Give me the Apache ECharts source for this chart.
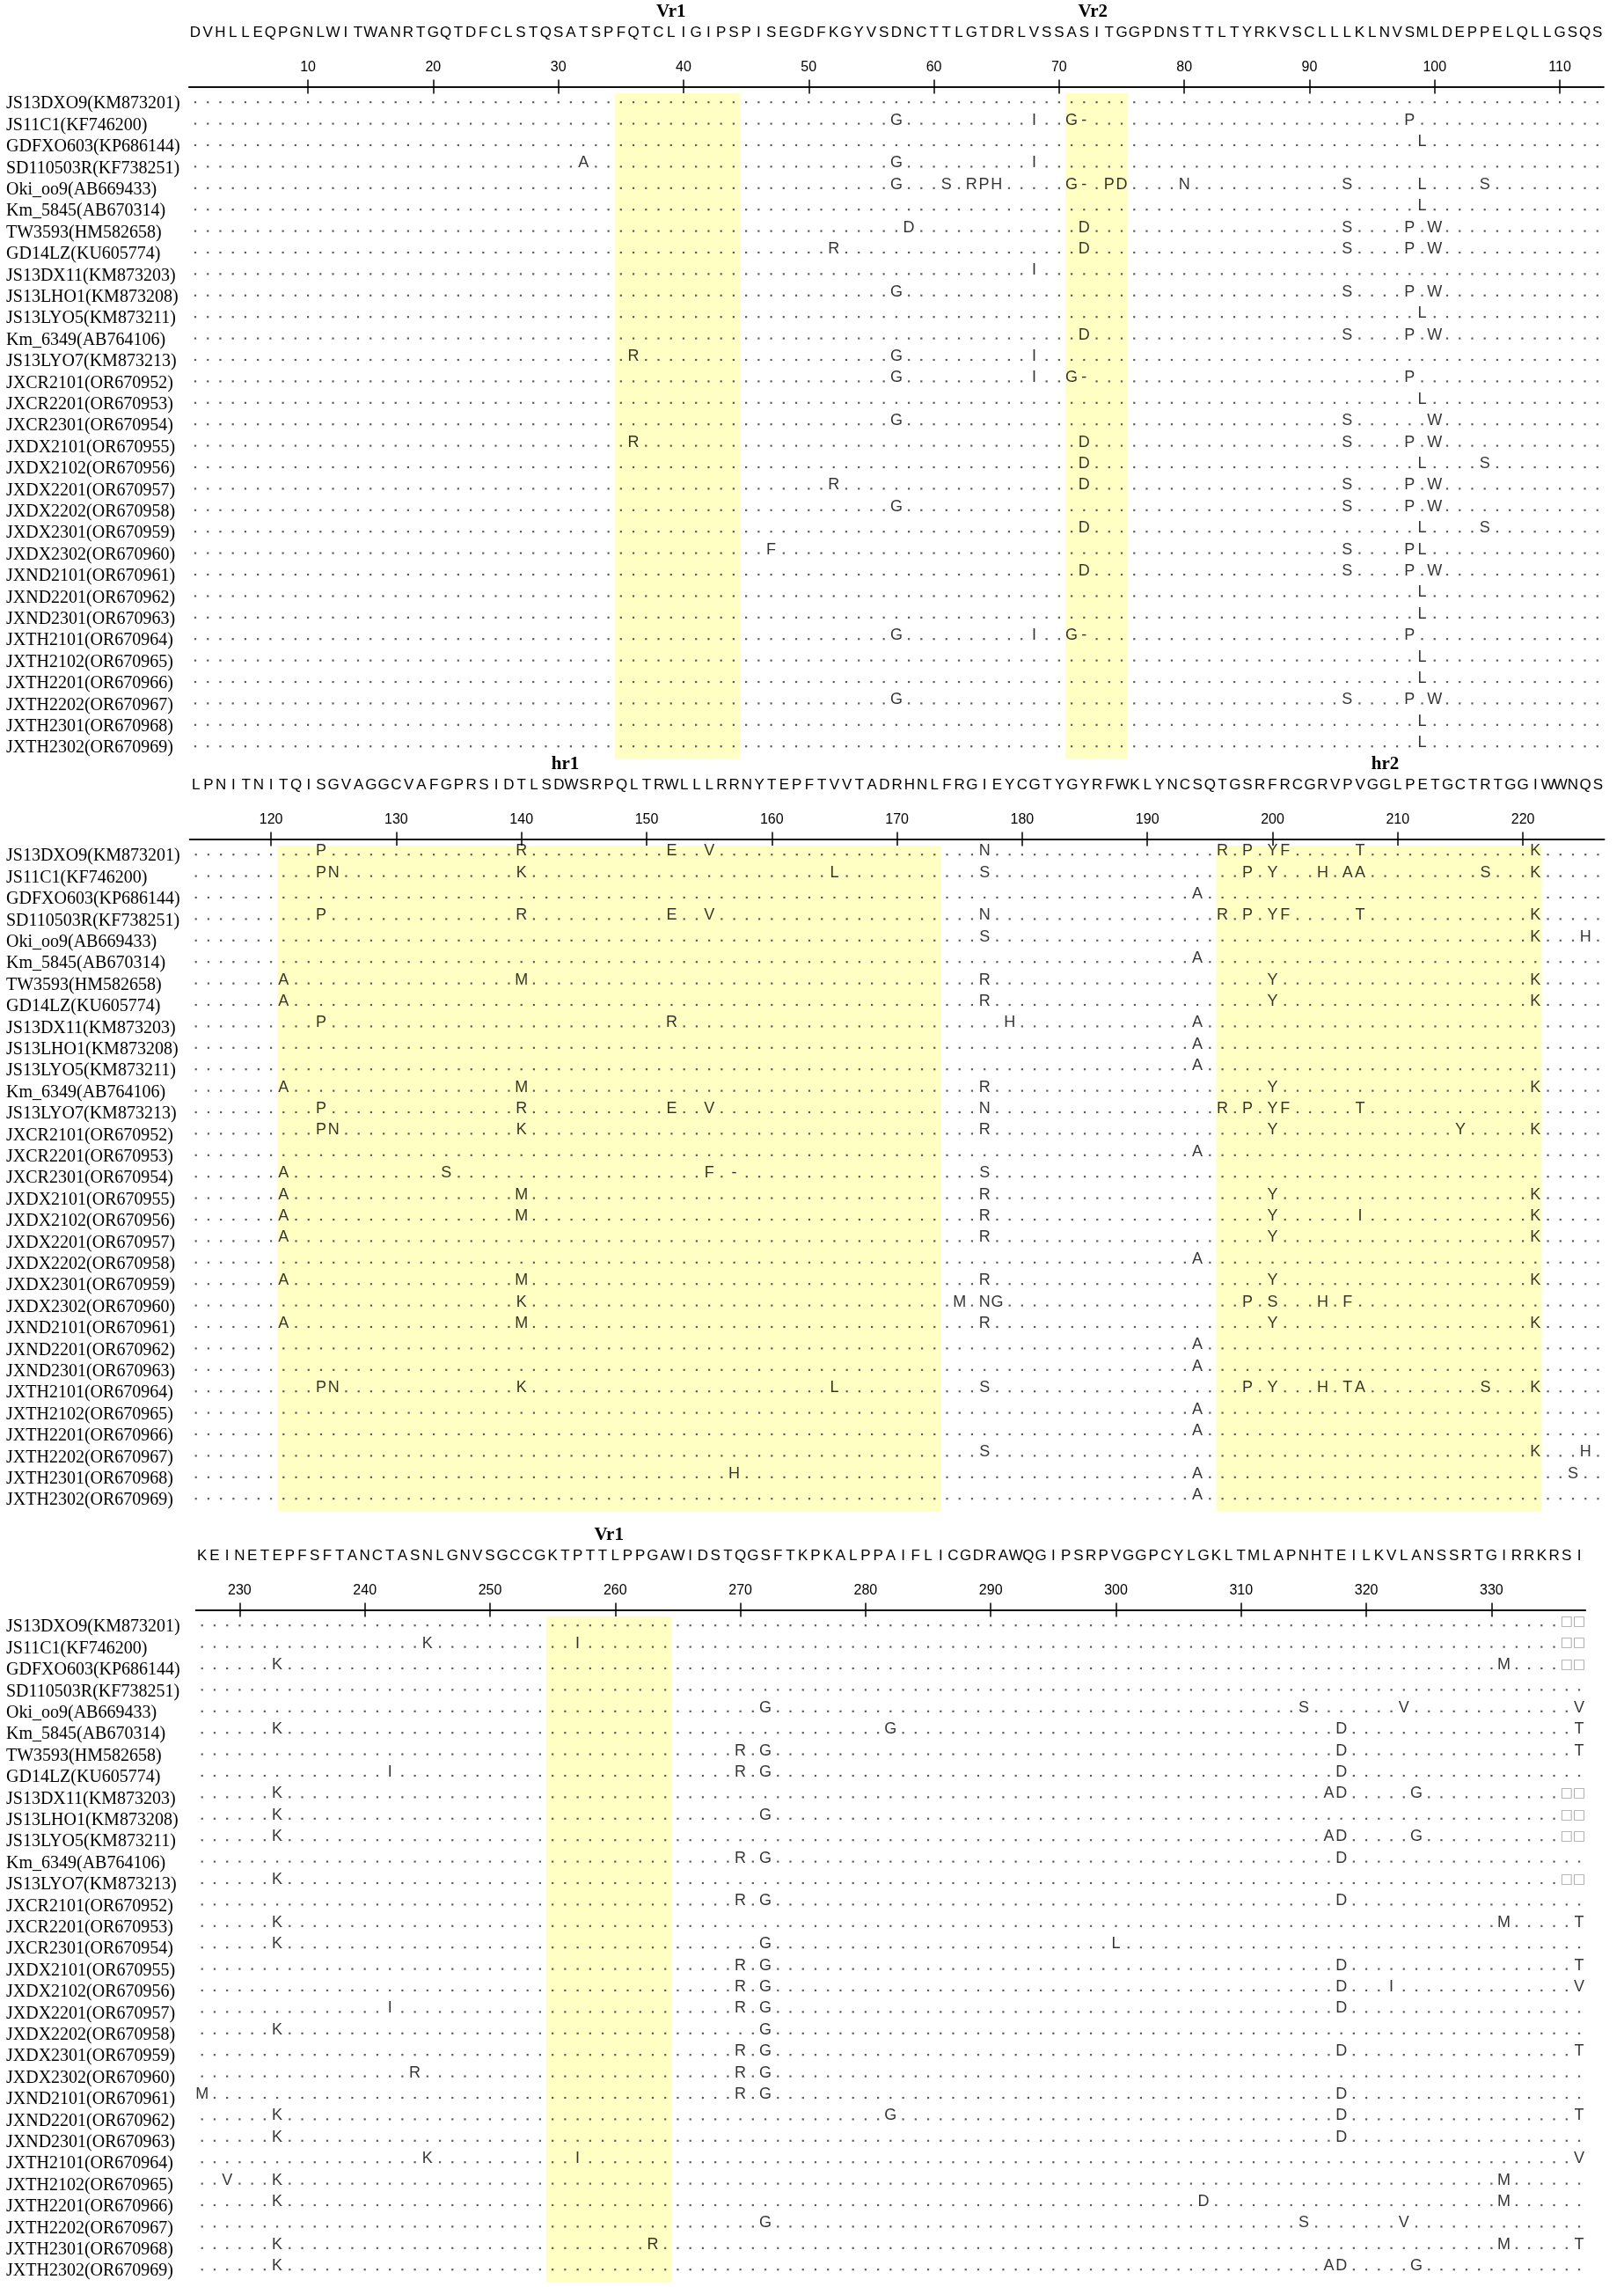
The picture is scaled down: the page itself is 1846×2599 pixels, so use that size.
<!DOCTYPE html>
<html>
<head>
<meta charset="utf-8">
<script src="https://cdn.jsdelivr.net/npm/echarts@6/dist/echarts.min.js"></script>
<style>
html,body{margin:0;padding:0;background:#fff;}
#chart{width:1846px;height:2599px;}
</style>
</head>
<body>
<div id="chart"></div>
<script>
// ---------------- DATA ----------------
const strains = ['JS13DXO9(KM873201)','JS11C1(KF746200)','GDFXO603(KP686144)','SD110503R(KF738251)','Oki_oo9(AB669433)','Km_5845(AB670314)','TW3593(HM582658)','GD14LZ(KU605774)','JS13DX11(KM873203)','JS13LHO1(KM873208)','JS13LYO5(KM873211)','Km_6349(AB764106)','JS13LYO7(KM873213)','JXCR2101(OR670952)','JXCR2201(OR670953)','JXCR2301(OR670954)','JXDX2101(OR670955)','JXDX2102(OR670956)','JXDX2201(OR670957)','JXDX2202(OR670958)','JXDX2301(OR670959)','JXDX2302(OR670960)','JXND2101(OR670961)','JXND2201(OR670962)','JXND2301(OR670963)','JXTH2101(OR670964)','JXTH2102(OR670965)','JXTH2201(OR670966)','JXTH2202(OR670967)','JXTH2301(OR670968)','JXTH2302(OR670969)'];

// reference sequence of each block and its first residue number
const refSeq1 = 'DVHLLEQPGNLWITWANRTGQTDFCLSTQSATSPFQTCLIGIPSPISEGDFKGYVSDNCTTLGTDRLVSSASITGGPDNSTTLTYRKVSCLLLKLNVSMLDEPPELQLLGSQS';
const refSeq2 = 'LPNITNITQISGVAGGCVAFGPRSIDTLSDWSRPQLTRWLLLRRNYTEPFTVVTADRHNLFRGIEYCGTYGYRFWKLYNCSQTGSRFRCGRVPVGGLPETGCTRTGGIWWNQS';
const refSeq3 = 'KEINETEPFSFTANCTASNLGNVSGCCGKTPTTLPPGAWIDSTQGSFTKPKALPPAIFLICGDRAWQGIPSRPVGGPCYLGKLTMLAPNHTEILKVLANSSRTGIRRKRSI';
const blockStart = [1, 114, 227];

// tick labels of the rulers
const ticks1 = [10,20,30,40,50,60,70,80,90,100,110];
const ticks2 = [120,130,140,150,160,170,180,190,200,210,220];
const ticks3 = [230,240,250,260,270,280,290,300,310,320,330];

// highlighted regions (residue ranges) and where their names sit
const regions1 = [{name:'Vr1', from:35, to:44, labelAt:39}, {name:'Vr2', from:71, to:75, labelAt:72.7}];
const regions2 = [{name:'hr1', from:121, to:173, labelAt:143.5}, {name:'hr2', from:196, to:221, labelAt:209}];
const regions3 = [{name:'Vr1', from:255, to:264, labelAt:259.5}];

// substitutions per strain (residue number + residue), one string per strain
const mut1 = [
 '',
 '57G 68I 71G 72- 98P',
 '99L',
 '32A 57G 68I',
 '57G 61S 63R 64P 65H 71G 72- 74P 75D 80N 93S 99L 104S',
 '99L',
 '58D 72D 93S 98P 100W',
 '52R 72D 93S 98P 100W',
 '68I',
 '57G 93S 98P 100W',
 '99L',
 '72D 93S 98P 100W',
 '36R 57G 68I',
 '57G 68I 71G 72- 98P',
 '99L',
 '57G 93S 100W',
 '36R 72D 93S 98P 100W',
 '72D 99L 104S',
 '52R 72D 93S 98P 100W',
 '57G 93S 98P 100W',
 '72D 99L 104S',
 '47F 93S 98P 99L',
 '72D 93S 98P 100W',
 '99L',
 '99L',
 '57G 68I 71G 72- 98P',
 '99L',
 '99L',
 '57G 93S 98P 100W',
 '99L',
 '99L'
];
const mut2 = [
 '124P 140R 152E 155V 177N 196R 198P 200Y 201F 207T 221K',
 '124P 125N 140K 165L 177S 198P 200Y 204H 206A 207A 217S 221K',
 '194A',
 '124P 140R 152E 155V 177N 196R 198P 200Y 201F 207T 221K',
 '177S 221K 225H',
 '194A',
 '121A 140M 177R 200Y 221K',
 '121A 177R 200Y 221K',
 '124P 152R 179H 194A',
 '194A',
 '194A',
 '121A 140M 177R 200Y 221K',
 '124P 140R 152E 155V 177N 196R 198P 200Y 201F 207T',
 '124P 125N 140K 177R 200Y 215Y 221K',
 '194A',
 '121A 134S 155F 157- 177S',
 '121A 140M 177R 200Y 221K',
 '121A 140M 177R 200Y 207I 221K',
 '121A 177R 200Y 221K',
 '194A',
 '121A 140M 177R 200Y 221K',
 '140K 175M 177N 178G 198P 200S 204H 206F',
 '121A 140M 177R 200Y 221K',
 '194A',
 '194A',
 '124P 125N 140K 165L 177S 198P 200Y 204H 206T 207A 217S 221K',
 '194A',
 '194A',
 '177S 221K 225H',
 '157H 194A 224S',
 '194A'
];
const mut3 = [
 '336□ 337□',
 '245K 257I 336□ 337□',
 '233K 331M 336□ 337□',
 '',
 '272G 315S 323V 337V',
 '233K 282G 318D 337T',
 '270R 272G 318D 337T',
 '242I 270R 272G 318D',
 '233K 317A 318D 324G 336□ 337□',
 '233K 272G 336□ 337□',
 '233K 317A 318D 324G 336□ 337□',
 '270R 272G 318D',
 '233K 336□ 337□',
 '270R 272G 318D',
 '233K 331M 337T',
 '233K 272G 300L',
 '270R 272G 318D 337T',
 '270R 272G 318D 322I 337V',
 '242I 270R 272G 318D',
 '233K 272G',
 '270R 272G 318D 337T',
 '244R 270R 272G',
 '227M 270R 272G 318D',
 '233K 282G 318D 337T',
 '233K 318D',
 '245K 257I 337V',
 '229V 233K 331M',
 '233K 307D 331M',
 '272G 315S 323V',
 '233K 263R 331M 337T',
 '233K 317A 318D 324G'
];

// ---------------- LAYOUT ----------------
const PITCH = 14.23;      // px per residue
const ROWH = 24.4;        // px per strain row
const RULER_H = 46.5;
const SANS = "'Liberation Sans', Arial, Helvetica, sans-serif";
const SERIF = "'Liberation Serif', 'Times New Roman', serif";
const layout = [
  {x0: 222.0, lineY: 52},
  {x0: 222.7, lineY: 907},
  {x0: 229.7, lineY: 1783}
];

function parseMut(s){
  const m = {};
  s.split(/\s+/).filter(Boolean).forEach(t => {
    const num = parseInt(t, 10);
    m[num] = t.replace(/^\d+/, '');
  });
  return m;
}

const blocks = [
  {ref: refSeq1, start: blockStart[0], mut: mut1, regions: regions1, ticks: ticks1},
  {ref: refSeq2, start: blockStart[1], mut: mut2, regions: regions2, ticks: ticks2},
  {ref: refSeq3, start: blockStart[2], mut: mut3, regions: regions3, ticks: ticks3}
];

const grid = [], xAxis = [], yAxis = [], series = [];

blocks.forEach((b, i) => {
  const L = layout[i];
  const n = b.ref.length;
  const min = b.start - 0.5, max = b.start + n - 0.5;
  const left = L.x0 - PITCH / 2;
  const width = n * PITCH;
  const gR = grid.length;
  grid.push({left: left, top: L.lineY, width: width, height: RULER_H, outerBoundsMode: 'none'});
  const gD = grid.length;
  grid.push({left: left, top: L.lineY + 54, width: width, height: strains.length * ROWH, outerBoundsMode: 'none'});

  const positions = [];
  for (let k = 0; k < n; k++) positions.push(b.start + k);

  // ruler: top line with reference sequence
  xAxis.push({
    gridIndex: gR, type: 'value', min: min, max: max, position: 'top',
    splitLine: {show: false},
    axisLine: {show: true, lineStyle: {color: '#000', width: 1.6}},
    axisTick: {show: true, inside: true, length: 8, customValues: b.ticks, lineStyle: {color: '#000', width: 1.5}},
    axisLabel: {show: true, customValues: positions, margin: 15, verticalAlign: 'middle',
      formatter: v => b.ref.charAt(Math.round(v) - b.start),
      color: '#000', fontSize: 17, fontFamily: SANS}
  });
  // region names above
  xAxis.push({
    gridIndex: gR, type: 'value', min: min, max: max, position: 'top',
    splitLine: {show: false}, axisLine: {show: false}, axisTick: {show: false},
    axisLabel: {show: true, customValues: b.regions.map(r => r.labelAt), margin: 38, verticalAlign: 'middle',
      formatter: v => { const r = b.regions.find(q => Math.abs(q.labelAt - v) < 1e-6); return r ? r.name : ''; },
      color: '#000', fontSize: 21, fontWeight: 'bold', fontFamily: SERIF}
  });
  // ruler: bottom line with numbers
  xAxis.push({
    gridIndex: gR, type: 'value', min: min, max: max, position: 'bottom',
    splitLine: {show: false},
    axisLine: {show: true, lineStyle: {color: '#000', width: 1.6}},
    axisTick: {show: true, inside: true, length: 8, customValues: b.ticks, lineStyle: {color: '#000', width: 1.5}},
    axisLabel: {show: true, inside: true, customValues: b.ticks, margin: 22, verticalAlign: 'middle',
      color: '#000', fontSize: 16, fontFamily: SANS}
  });
  const xRulerIdx = xAxis.length - 1;
  yAxis.push({gridIndex: gR, type: 'value', min: 0, max: 1, show: false});
  const yRulerIdx = yAxis.length - 1;

  // data grid
  xAxis.push({gridIndex: gD, type: 'value', min: min, max: max, show: false});
  const xDataIdx = xAxis.length - 1;
  yAxis.push({
    gridIndex: gD, type: 'category', data: strains, inverse: true,
    axisLine: {show: false}, axisTick: {show: false}, splitLine: {show: false},
    axisLabel: {show: true, interval: 0, align: 'left', margin: left - 7, verticalAlign: 'middle',
      padding: [0, 0, 6, 0], color: '#000', fontSize: 20, fontFamily: SERIF}
  });
  const yDataIdx = yAxis.length - 1;

  const dots = [], letters = [];
  b.mut.forEach((s, r) => {
    const m = parseMut(s);
    positions.forEach(p => {
      if (m[p] !== undefined) {
        const ch = m[p];
        const item = {value: [p, r, ch]};
        if (ch === '□') item.label = {color: '#8a8a8a', fontFamily: "'DejaVu Sans', sans-serif", fontSize: 15};
        letters.push(item);
      } else {
        dots.push([p, r]);
      }
    });
  });

  series.push({
    type: 'scatter', xAxisIndex: xDataIdx, yAxisIndex: yDataIdx, data: dots,
    symbol: 'rect', symbolSize: 2.2, symbolOffset: [0, -2], silent: true,
    itemStyle: {color: '#333'},
    markArea: {
      silent: true,
      itemStyle: {color: '#FFFFC4'},
      data: b.regions.map(r => [{xAxis: r.from - 0.5}, {xAxis: r.to + 0.5}])
    }
  });
  series.push({
    type: 'scatter', xAxisIndex: xDataIdx, yAxisIndex: yDataIdx, data: letters,
    symbol: 'rect', symbolSize: 1, silent: true,
    itemStyle: {color: 'rgba(0,0,0,0)'},
    label: {show: true, position: 'inside', offset: [0, -6], formatter: p => p.value[2],
      color: '#000', fontSize: 18, fontFamily: SANS}
  });
  // empty series keeps the ruler grid active
  series.push({type: 'scatter', xAxisIndex: xRulerIdx, yAxisIndex: yRulerIdx, data: [], silent: true});
});

const chart = echarts.init(document.getElementById('chart'), null, {renderer: 'canvas'});
chart.setOption({
  animation: false,
  backgroundColor: '#ffffff',
  grid: grid,
  xAxis: xAxis,
  yAxis: yAxis,
  series: series
});
</script>
</body>
</html>
